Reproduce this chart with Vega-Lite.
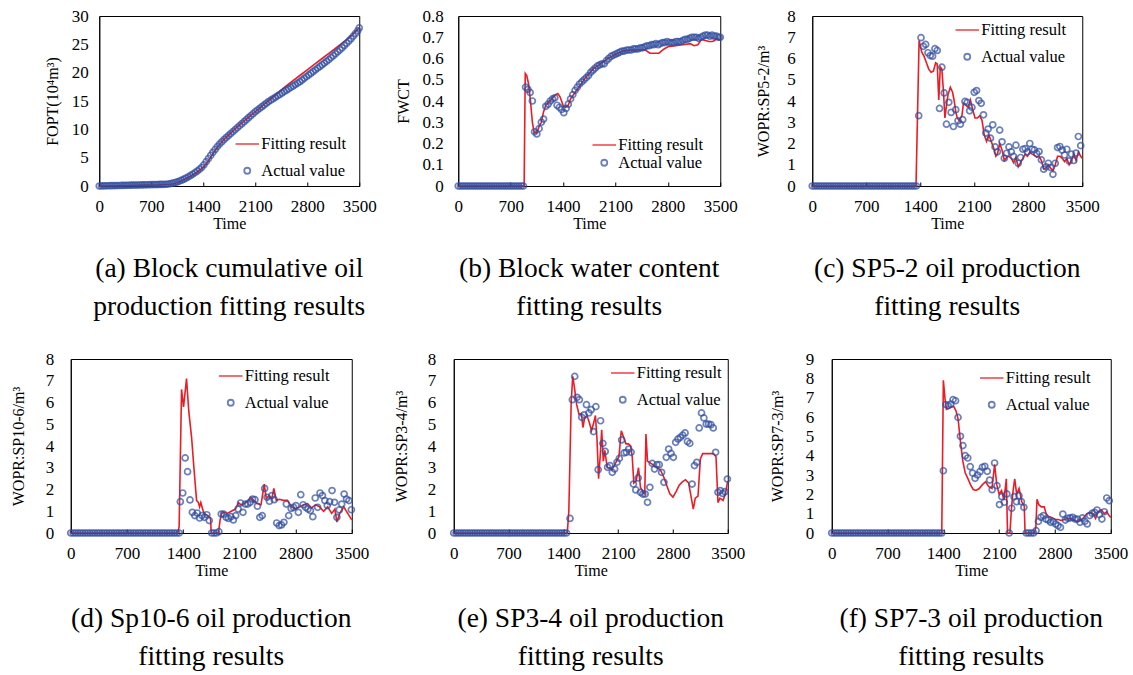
{
"$schema": "https://vega.github.io/schema/vega-lite/v6.json",
"background": "white",
"padding": {"left": 9.5, "top": 6, "right": 5, "bottom": 5},
"config": {
 "font": "Liberation Serif",
 "view": {"stroke": "black", "strokeWidth": 1},
 "axis": {"grid": false, "domainColor": "black", "labelColor": "black", "titleColor": "black", "labelFontSize": 17, "titleFontSize": 16, "titleFontWeight": "normal", "labelFont": "Liberation Serif", "titleFont": "Liberation Serif", "labelOverlap": false},
 "axisX": {"tickSize": -4, "tickColor": "black", "labelPadding": 16, "titlePadding": 1, "labelFlush": false, "labelOverlap": false, "tickCount": 12},
 "axisY": {"ticks": false, "labelOverlap": false, "tickCount": 12, "format": "~g"},
 "title": {"orient": "bottom", "fontSize": 27.5, "fontWeight": "normal", "lineHeight": 38, "offset": 24, "frame": "group", "color": "black", "anchor": "middle", "font": "Liberation Serif"},
 "legend": {"labelFontSize": 16.5, "labelColor": "black", "labelFont": "Liberation Serif", "padding": 0, "labelOffset": 1, "rowPadding": 9.5, "symbolStrokeWidth": 1.8}
},
"datasets": {
"aF": [{"t":0,"v":0},{"t":200,"v":0.05},{"t":400,"v":0.1},{"t":600,"v":0.15},{"t":800,"v":0.2},{"t":950,"v":0.3},{"t":1000,"v":0.4},{"t":1100,"v":0.9},{"t":1200,"v":1.5},{"t":1300,"v":2.3},{"t":1400,"v":3.3},{"t":1450,"v":4.1},{"t":1500,"v":5.1},{"t":1550,"v":6.1},{"t":1600,"v":7.0},{"t":1700,"v":8.5},{"t":1800,"v":9.7},{"t":1900,"v":10.9},{"t":2000,"v":12.0},{"t":2100,"v":13.1},{"t":2200,"v":14.2},{"t":2300,"v":15.3},{"t":2400,"v":16.4},{"t":2500,"v":17.5},{"t":2600,"v":18.5},{"t":2700,"v":19.5},{"t":2800,"v":20.5},{"t":2900,"v":21.5},{"t":3000,"v":22.5},{"t":3100,"v":23.5},{"t":3200,"v":24.5},{"t":3300,"v":25.5},{"t":3400,"v":26.6},{"t":3500,"v":27.9}],
"aA": [{"t":0,"v":0},{"t":30,"v":0.01},{"t":60,"v":0.02},{"t":90,"v":0.03},{"t":120,"v":0.04},{"t":150,"v":0.05},{"t":180,"v":0.06},{"t":210,"v":0.07},{"t":240,"v":0.08},{"t":270,"v":0.09},{"t":300,"v":0.1},{"t":330,"v":0.11},{"t":360,"v":0.12},{"t":390,"v":0.13},{"t":420,"v":0.14},{"t":450,"v":0.15},{"t":480,"v":0.16},{"t":510,"v":0.17},{"t":540,"v":0.18},{"t":570,"v":0.19},{"t":600,"v":0.2},{"t":630,"v":0.21},{"t":660,"v":0.22},{"t":690,"v":0.23},{"t":720,"v":0.24},{"t":750,"v":0.25},{"t":780,"v":0.26},{"t":810,"v":0.27},{"t":840,"v":0.28},{"t":870,"v":0.29},{"t":900,"v":0.31},{"t":930,"v":0.35},{"t":960,"v":0.42},{"t":990,"v":0.5},{"t":1020,"v":0.6},{"t":1050,"v":0.72},{"t":1080,"v":0.86},{"t":1110,"v":1.02},{"t":1140,"v":1.2},{"t":1170,"v":1.4},{"t":1200,"v":1.62},{"t":1230,"v":1.86},{"t":1260,"v":2.1},{"t":1290,"v":2.36},{"t":1320,"v":2.64},{"t":1350,"v":2.95},{"t":1380,"v":3.3},{"t":1410,"v":3.75},{"t":1440,"v":4.3},{"t":1470,"v":4.85},{"t":1500,"v":5.4},{"t":1530,"v":5.95},{"t":1560,"v":6.45},{"t":1590,"v":6.95},{"t":1620,"v":7.4},{"t":1650,"v":7.8},{"t":1680,"v":8.2},{"t":1710,"v":8.55},{"t":1740,"v":8.9},{"t":1770,"v":9.25},{"t":1800,"v":9.6},{"t":1830,"v":9.95},{"t":1860,"v":10.3},{"t":1890,"v":10.65},{"t":1920,"v":11.0},{"t":1950,"v":11.35},{"t":1980,"v":11.7},{"t":2010,"v":12.05},{"t":2040,"v":12.4},{"t":2070,"v":12.75},{"t":2100,"v":13.1},{"t":2130,"v":13.4},{"t":2160,"v":13.7},{"t":2190,"v":14.0},{"t":2220,"v":14.3},{"t":2250,"v":14.6},{"t":2280,"v":14.9},{"t":2310,"v":15.15},{"t":2340,"v":15.4},{"t":2370,"v":15.65},{"t":2400,"v":15.9},{"t":2430,"v":16.15},{"t":2460,"v":16.4},{"t":2490,"v":16.65},{"t":2520,"v":16.9},{"t":2550,"v":17.15},{"t":2580,"v":17.4},{"t":2610,"v":17.65},{"t":2640,"v":17.9},{"t":2670,"v":18.15},{"t":2700,"v":18.4},{"t":2730,"v":18.7},{"t":2760,"v":19.0},{"t":2790,"v":19.3},{"t":2820,"v":19.6},{"t":2850,"v":19.9},{"t":2880,"v":20.2},{"t":2910,"v":20.5},{"t":2940,"v":20.8},{"t":2970,"v":21.1},{"t":3000,"v":21.4},{"t":3030,"v":21.7},{"t":3060,"v":22.0},{"t":3090,"v":22.3},{"t":3120,"v":22.65},{"t":3150,"v":23.0},{"t":3180,"v":23.35},{"t":3210,"v":23.7},{"t":3240,"v":24.05},{"t":3270,"v":24.4},{"t":3300,"v":24.8},{"t":3330,"v":25.2},{"t":3360,"v":25.6},{"t":3390,"v":26.0},{"t":3420,"v":26.45},{"t":3450,"v":26.9},{"t":3480,"v":27.4},{"t":3500,"v":27.9}],
"bF": [{"t":0,"v":0},{"t":880,"v":0},{"t":895,"v":0.53},{"t":915,"v":0.52},{"t":940,"v":0.48},{"t":965,"v":0.4},{"t":990,"v":0.3},{"t":1015,"v":0.25},{"t":1050,"v":0.25},{"t":1080,"v":0.28},{"t":1110,"v":0.3},{"t":1140,"v":0.35},{"t":1170,"v":0.38},{"t":1200,"v":0.39},{"t":1250,"v":0.41},{"t":1300,"v":0.43},{"t":1330,"v":0.435},{"t":1360,"v":0.42},{"t":1400,"v":0.38},{"t":1430,"v":0.37},{"t":1470,"v":0.38},{"t":1500,"v":0.41},{"t":1600,"v":0.46},{"t":1700,"v":0.51},{"t":1800,"v":0.55},{"t":1900,"v":0.575},{"t":2000,"v":0.6},{"t":2100,"v":0.62},{"t":2200,"v":0.635},{"t":2300,"v":0.64},{"t":2400,"v":0.64},{"t":2500,"v":0.64},{"t":2560,"v":0.625},{"t":2620,"v":0.625},{"t":2680,"v":0.625},{"t":2750,"v":0.645},{"t":2800,"v":0.655},{"t":2900,"v":0.66},{"t":3000,"v":0.665},{"t":3100,"v":0.67},{"t":3150,"v":0.66},{"t":3200,"v":0.665},{"t":3250,"v":0.69},{"t":3300,"v":0.685},{"t":3350,"v":0.68},{"t":3400,"v":0.68},{"t":3450,"v":0.69},{"t":3500,"v":0.69}],
"bA": [{"t":0,"v":0},{"t":30,"v":0},{"t":60,"v":0},{"t":90,"v":0},{"t":120,"v":0},{"t":150,"v":0},{"t":180,"v":0},{"t":210,"v":0},{"t":240,"v":0},{"t":270,"v":0},{"t":300,"v":0},{"t":330,"v":0},{"t":360,"v":0},{"t":390,"v":0},{"t":420,"v":0},{"t":450,"v":0},{"t":480,"v":0},{"t":510,"v":0},{"t":540,"v":0},{"t":570,"v":0},{"t":600,"v":0},{"t":630,"v":0},{"t":660,"v":0},{"t":690,"v":0},{"t":720,"v":0},{"t":750,"v":0},{"t":780,"v":0},{"t":810,"v":0},{"t":840,"v":0},{"t":870,"v":0},{"t":900,"v":0.465},{"t":930,"v":0.455},{"t":960,"v":0.44},{"t":990,"v":0.4},{"t":1020,"v":0.255},{"t":1050,"v":0.245},{"t":1080,"v":0.27},{"t":1110,"v":0.3},{"t":1140,"v":0.315},{"t":1170,"v":0.375},{"t":1200,"v":0.385},{"t":1230,"v":0.4},{"t":1260,"v":0.41},{"t":1290,"v":0.415},{"t":1320,"v":0.38},{"t":1350,"v":0.37},{"t":1380,"v":0.36},{"t":1410,"v":0.345},{"t":1440,"v":0.365},{"t":1470,"v":0.385},{"t":1500,"v":0.41},{"t":1530,"v":0.43},{"t":1560,"v":0.45},{"t":1590,"v":0.465},{"t":1620,"v":0.48},{"t":1650,"v":0.49},{"t":1680,"v":0.5},{"t":1710,"v":0.51},{"t":1740,"v":0.52},{"t":1770,"v":0.535},{"t":1800,"v":0.545},{"t":1830,"v":0.555},{"t":1860,"v":0.565},{"t":1890,"v":0.57},{"t":1920,"v":0.575},{"t":1950,"v":0.575},{"t":1980,"v":0.59},{"t":2010,"v":0.6},{"t":2040,"v":0.61},{"t":2070,"v":0.615},{"t":2100,"v":0.62},{"t":2130,"v":0.625},{"t":2160,"v":0.63},{"t":2190,"v":0.635},{"t":2220,"v":0.635},{"t":2250,"v":0.64},{"t":2280,"v":0.64},{"t":2310,"v":0.64},{"t":2340,"v":0.645},{"t":2370,"v":0.645},{"t":2400,"v":0.645},{"t":2430,"v":0.65},{"t":2460,"v":0.65},{"t":2490,"v":0.655},{"t":2520,"v":0.66},{"t":2550,"v":0.66},{"t":2580,"v":0.665},{"t":2610,"v":0.665},{"t":2640,"v":0.67},{"t":2670,"v":0.665},{"t":2700,"v":0.67},{"t":2730,"v":0.675},{"t":2760,"v":0.675},{"t":2790,"v":0.68},{"t":2820,"v":0.675},{"t":2850,"v":0.675},{"t":2880,"v":0.675},{"t":2910,"v":0.68},{"t":2940,"v":0.68},{"t":2970,"v":0.68},{"t":3000,"v":0.685},{"t":3030,"v":0.69},{"t":3060,"v":0.69},{"t":3090,"v":0.695},{"t":3120,"v":0.7},{"t":3150,"v":0.7},{"t":3180,"v":0.7},{"t":3210,"v":0.695},{"t":3240,"v":0.7},{"t":3270,"v":0.705},{"t":3300,"v":0.71},{"t":3330,"v":0.71},{"t":3360,"v":0.705},{"t":3390,"v":0.71},{"t":3420,"v":0.705},{"t":3450,"v":0.705},{"t":3480,"v":0.7},{"t":3500,"v":0.7}],
"cF": [{"t":0,"v":0},{"t":1345,"v":0},{"t":1385,"v":6.85},{"t":1420,"v":6.3},{"t":1450,"v":6.1},{"t":1480,"v":5.8},{"t":1510,"v":5.5},{"t":1540,"v":5.35},{"t":1570,"v":5.4},{"t":1600,"v":5.8},{"t":1620,"v":5.75},{"t":1640,"v":4.05},{"t":1660,"v":5.6},{"t":1680,"v":5.5},{"t":1700,"v":4.5},{"t":1720,"v":3.2},{"t":1740,"v":3.8},{"t":1760,"v":4.3},{"t":1790,"v":4.65},{"t":1820,"v":4.4},{"t":1840,"v":4.0},{"t":1860,"v":3.5},{"t":1880,"v":3.2},{"t":1900,"v":3.1},{"t":1940,"v":3.3},{"t":1960,"v":3.9},{"t":1990,"v":3.8},{"t":2020,"v":3.7},{"t":2050,"v":4.05},{"t":2080,"v":3.6},{"t":2110,"v":3.2},{"t":2140,"v":3.2},{"t":2170,"v":3.3},{"t":2200,"v":3.1},{"t":2230,"v":2.4},{"t":2260,"v":2.1},{"t":2290,"v":2.4},{"t":2320,"v":2.1},{"t":2350,"v":1.8},{"t":2380,"v":1.4},{"t":2400,"v":1.5},{"t":2430,"v":2.0},{"t":2460,"v":1.7},{"t":2490,"v":1.2},{"t":2520,"v":1.35},{"t":2550,"v":1.4},{"t":2580,"v":1.3},{"t":2610,"v":1.1},{"t":2640,"v":1.35},{"t":2670,"v":0.9},{"t":2700,"v":1.1},{"t":2730,"v":1.3},{"t":2760,"v":1.5},{"t":2790,"v":1.4},{"t":2820,"v":1.6},{"t":2850,"v":1.5},{"t":2880,"v":1.45},{"t":2910,"v":1.35},{"t":2940,"v":1.4},{"t":2970,"v":1.2},{"t":3000,"v":0.8},{"t":3030,"v":0.85},{"t":3060,"v":1.0},{"t":3090,"v":0.85},{"t":3120,"v":0.7},{"t":3150,"v":1.0},{"t":3180,"v":1.4},{"t":3210,"v":1.4},{"t":3240,"v":1.3},{"t":3270,"v":1.15},{"t":3300,"v":1.3},{"t":3330,"v":1.0},{"t":3360,"v":1.2},{"t":3390,"v":1.5},{"t":3420,"v":1.2},{"t":3450,"v":1.6},{"t":3480,"v":1.4},{"t":3500,"v":1.3}],
"cA": [{"t":0,"v":0},{"t":30,"v":0},{"t":60,"v":0},{"t":90,"v":0},{"t":120,"v":0},{"t":150,"v":0},{"t":180,"v":0},{"t":210,"v":0},{"t":240,"v":0},{"t":270,"v":0},{"t":300,"v":0},{"t":330,"v":0},{"t":360,"v":0},{"t":390,"v":0},{"t":420,"v":0},{"t":450,"v":0},{"t":480,"v":0},{"t":510,"v":0},{"t":540,"v":0},{"t":570,"v":0},{"t":600,"v":0},{"t":630,"v":0},{"t":660,"v":0},{"t":690,"v":0},{"t":720,"v":0},{"t":750,"v":0},{"t":780,"v":0},{"t":810,"v":0},{"t":840,"v":0},{"t":870,"v":0},{"t":900,"v":0},{"t":930,"v":0},{"t":960,"v":0},{"t":990,"v":0},{"t":1020,"v":0},{"t":1050,"v":0},{"t":1080,"v":0},{"t":1110,"v":0},{"t":1140,"v":0},{"t":1170,"v":0},{"t":1200,"v":0},{"t":1230,"v":0},{"t":1260,"v":0},{"t":1290,"v":0},{"t":1320,"v":0},{"t":1350,"v":0},{"t":1380,"v":3.31},{"t":1410,"v":6.98},{"t":1440,"v":6.57},{"t":1470,"v":6.66},{"t":1500,"v":6.27},{"t":1530,"v":6.14},{"t":1560,"v":6.11},{"t":1590,"v":6.46},{"t":1620,"v":6.38},{"t":1650,"v":3.65},{"t":1680,"v":5.59},{"t":1710,"v":4.38},{"t":1740,"v":2.91},{"t":1770,"v":3.94},{"t":1800,"v":3.46},{"t":1830,"v":2.8},{"t":1860,"v":3.59},{"t":1890,"v":3.07},{"t":1920,"v":2.91},{"t":1950,"v":3.12},{"t":1980,"v":3.98},{"t":2010,"v":3.94},{"t":2040,"v":3.54},{"t":2070,"v":3.7},{"t":2100,"v":4.41},{"t":2130,"v":4.49},{"t":2160,"v":4.02},{"t":2190,"v":3.89},{"t":2220,"v":3.35},{"t":2250,"v":2.49},{"t":2280,"v":2.68},{"t":2310,"v":2.25},{"t":2340,"v":2.88},{"t":2370,"v":1.84},{"t":2400,"v":1.61},{"t":2430,"v":2.63},{"t":2460,"v":2.08},{"t":2490,"v":1.31},{"t":2520,"v":1.54},{"t":2550,"v":1.84},{"t":2580,"v":1.61},{"t":2610,"v":1.39},{"t":2640,"v":1.92},{"t":2670,"v":1.07},{"t":2700,"v":1.34},{"t":2730,"v":1.73},{"t":2760,"v":1.76},{"t":2790,"v":1.61},{"t":2820,"v":2.0},{"t":2850,"v":1.73},{"t":2880,"v":1.7},{"t":2910,"v":1.53},{"t":2940,"v":1.62},{"t":2970,"v":1.23},{"t":3000,"v":0.79},{"t":3030,"v":0.9},{"t":3060,"v":1.07},{"t":3090,"v":0.87},{"t":3120,"v":0.55},{"t":3150,"v":1.07},{"t":3180,"v":1.81},{"t":3210,"v":1.86},{"t":3240,"v":1.69},{"t":3270,"v":1.46},{"t":3300,"v":1.73},{"t":3330,"v":1.18},{"t":3360,"v":1.5},{"t":3390,"v":1.2},{"t":3420,"v":1.55},{"t":3450,"v":2.33},{"t":3480,"v":1.9}],
"dF": [{"t":0,"v":0},{"t":1335,"v":0},{"t":1350,"v":0.3},{"t":1380,"v":6.6},{"t":1405,"v":5.8},{"t":1442,"v":7.1},{"t":1470,"v":5.6},{"t":1505,"v":4.4},{"t":1534,"v":3.0},{"t":1567,"v":1.5},{"t":1590,"v":1.4},{"t":1605,"v":1.2},{"t":1620,"v":1.4},{"t":1650,"v":1.0},{"t":1680,"v":0.85},{"t":1710,"v":0.8},{"t":1740,"v":0.7},{"t":1750,"v":0},{"t":1840,"v":0},{"t":1860,"v":0.6},{"t":1880,"v":0.9},{"t":1910,"v":0.95},{"t":1950,"v":0.9},{"t":2000,"v":1.0},{"t":2050,"v":1.1},{"t":2090,"v":1.4},{"t":2120,"v":1.3},{"t":2160,"v":1.35},{"t":2200,"v":1.45},{"t":2240,"v":1.65},{"t":2280,"v":1.5},{"t":2320,"v":1.35},{"t":2370,"v":1.3},{"t":2410,"v":2.25},{"t":2435,"v":1.6},{"t":2470,"v":1.7},{"t":2505,"v":1.6},{"t":2530,"v":2.05},{"t":2560,"v":1.5},{"t":2600,"v":1.55},{"t":2650,"v":1.5},{"t":2700,"v":1.5},{"t":2750,"v":1.2},{"t":2800,"v":1.1},{"t":2850,"v":1.2},{"t":2900,"v":1.3},{"t":2950,"v":1.35},{"t":3000,"v":1.15},{"t":3050,"v":1.3},{"t":3100,"v":1.2},{"t":3150,"v":1.0},{"t":3200,"v":1.2},{"t":3250,"v":0.9},{"t":3290,"v":1.1},{"t":3315,"v":0.5},{"t":3350,"v":0.9},{"t":3400,"v":1.2},{"t":3450,"v":0.9},{"t":3500,"v":0.6}],
"dA": [{"t":0,"v":0},{"t":30,"v":0},{"t":60,"v":0},{"t":90,"v":0},{"t":120,"v":0},{"t":150,"v":0},{"t":180,"v":0},{"t":210,"v":0},{"t":240,"v":0},{"t":270,"v":0},{"t":300,"v":0},{"t":330,"v":0},{"t":360,"v":0},{"t":390,"v":0},{"t":420,"v":0},{"t":450,"v":0},{"t":480,"v":0},{"t":510,"v":0},{"t":540,"v":0},{"t":570,"v":0},{"t":600,"v":0},{"t":630,"v":0},{"t":660,"v":0},{"t":690,"v":0},{"t":720,"v":0},{"t":750,"v":0},{"t":780,"v":0},{"t":810,"v":0},{"t":840,"v":0},{"t":870,"v":0},{"t":900,"v":0},{"t":930,"v":0},{"t":960,"v":0},{"t":990,"v":0},{"t":1020,"v":0},{"t":1050,"v":0},{"t":1080,"v":0},{"t":1110,"v":0},{"t":1140,"v":0},{"t":1170,"v":0},{"t":1200,"v":0},{"t":1230,"v":0},{"t":1260,"v":0},{"t":1290,"v":0},{"t":1320,"v":0},{"t":1350,"v":0},{"t":1365,"v":1.44},{"t":1395,"v":1.84},{"t":1425,"v":3.45},{"t":1455,"v":2.82},{"t":1485,"v":1.52},{"t":1515,"v":0.95},{"t":1545,"v":0.8},{"t":1575,"v":0.92},{"t":1605,"v":0.69},{"t":1635,"v":0.8},{"t":1665,"v":0.72},{"t":1695,"v":0.84},{"t":1725,"v":0.57},{"t":1755,"v":0},{"t":1785,"v":0},{"t":1815,"v":0},{"t":1845,"v":0.06},{"t":1875,"v":0.87},{"t":1905,"v":0.87},{"t":1935,"v":0.72},{"t":1965,"v":0.67},{"t":1995,"v":0.75},{"t":2025,"v":0.6},{"t":2055,"v":0.8},{"t":2085,"v":1.1},{"t":2115,"v":1.38},{"t":2145,"v":0.95},{"t":2175,"v":1.33},{"t":2205,"v":1.33},{"t":2235,"v":1.41},{"t":2265,"v":1.56},{"t":2295,"v":1.53},{"t":2325,"v":1.23},{"t":2355,"v":0.72},{"t":2385,"v":0.8},{"t":2415,"v":2.05},{"t":2445,"v":1.64},{"t":2475,"v":1.46},{"t":2505,"v":1.72},{"t":2535,"v":1.53},{"t":2565,"v":0.46},{"t":2595,"v":0.34},{"t":2625,"v":0.37},{"t":2655,"v":0.49},{"t":2685,"v":1.33},{"t":2715,"v":0.8},{"t":2745,"v":1.13},{"t":2775,"v":1.18},{"t":2805,"v":1.26},{"t":2835,"v":0.95},{"t":2865,"v":1.76},{"t":2895,"v":1.3},{"t":2925,"v":1.18},{"t":2955,"v":1.1},{"t":2985,"v":1.03},{"t":3015,"v":0.75},{"t":3045,"v":1.61},{"t":3075,"v":1.18},{"t":3105,"v":1.84},{"t":3135,"v":1.72},{"t":3165,"v":1.49},{"t":3195,"v":1.26},{"t":3225,"v":1.44},{"t":3255,"v":1.95},{"t":3285,"v":1.41},{"t":3315,"v":0.72},{"t":3345,"v":1.06},{"t":3375,"v":1.33},{"t":3405,"v":1.79},{"t":3435,"v":1.56},{"t":3465,"v":1.49},{"t":3495,"v":1.07}],
"eF": [{"t":0,"v":0},{"t":1450,"v":0},{"t":1470,"v":1.0},{"t":1500,"v":6.0},{"t":1520,"v":7.2},{"t":1545,"v":6.6},{"t":1570,"v":5.9},{"t":1600,"v":5.45},{"t":1630,"v":5.5},{"t":1650,"v":4.85},{"t":1670,"v":5.25},{"t":1700,"v":5.4},{"t":1730,"v":5.1},{"t":1760,"v":4.7},{"t":1790,"v":5.1},{"t":1810,"v":5.4},{"t":1830,"v":4.3},{"t":1850,"v":2.5},{"t":1870,"v":3.5},{"t":1890,"v":4.75},{"t":1910,"v":3.3},{"t":1930,"v":3.8},{"t":1960,"v":3.0},{"t":1990,"v":3.0},{"t":2020,"v":2.9},{"t":2050,"v":3.1},{"t":2080,"v":3.3},{"t":2110,"v":3.5},{"t":2140,"v":4.7},{"t":2170,"v":4.4},{"t":2200,"v":4.1},{"t":2230,"v":4.1},{"t":2260,"v":4.0},{"t":2280,"v":3.5},{"t":2300,"v":2.3},{"t":2330,"v":2.4},{"t":2360,"v":3.0},{"t":2385,"v":2.1},{"t":2415,"v":1.9},{"t":2440,"v":1.8},{"t":2455,"v":4.55},{"t":2475,"v":3.3},{"t":2520,"v":3.2},{"t":2560,"v":3.1},{"t":2600,"v":3.0},{"t":2640,"v":2.9},{"t":2680,"v":2.6},{"t":2720,"v":2.2},{"t":2760,"v":1.8},{"t":2800,"v":1.65},{"t":2840,"v":1.9},{"t":2880,"v":2.2},{"t":2920,"v":2.35},{"t":2960,"v":2.45},{"t":3000,"v":2.3},{"t":3035,"v":1.6},{"t":3060,"v":1.1},{"t":3085,"v":1.6},{"t":3120,"v":1.7},{"t":3150,"v":3.4},{"t":3180,"v":3.65},{"t":3250,"v":3.65},{"t":3320,"v":3.65},{"t":3350,"v":3.5},{"t":3375,"v":1.4},{"t":3400,"v":1.6},{"t":3440,"v":1.5},{"t":3470,"v":1.8},{"t":3500,"v":2.4}],
"eA": [{"t":0,"v":0},{"t":30,"v":0},{"t":60,"v":0},{"t":90,"v":0},{"t":120,"v":0},{"t":150,"v":0},{"t":180,"v":0},{"t":210,"v":0},{"t":240,"v":0},{"t":270,"v":0},{"t":300,"v":0},{"t":330,"v":0},{"t":360,"v":0},{"t":390,"v":0},{"t":420,"v":0},{"t":450,"v":0},{"t":480,"v":0},{"t":510,"v":0},{"t":540,"v":0},{"t":570,"v":0},{"t":600,"v":0},{"t":630,"v":0},{"t":660,"v":0},{"t":690,"v":0},{"t":720,"v":0},{"t":750,"v":0},{"t":780,"v":0},{"t":810,"v":0},{"t":840,"v":0},{"t":870,"v":0},{"t":900,"v":0},{"t":930,"v":0},{"t":960,"v":0},{"t":990,"v":0},{"t":1020,"v":0},{"t":1050,"v":0},{"t":1080,"v":0},{"t":1110,"v":0},{"t":1140,"v":0},{"t":1170,"v":0},{"t":1200,"v":0},{"t":1230,"v":0},{"t":1260,"v":0},{"t":1290,"v":0},{"t":1320,"v":0},{"t":1350,"v":0},{"t":1380,"v":0},{"t":1410,"v":0},{"t":1440,"v":0},{"t":1485,"v":0.67},{"t":1515,"v":6.13},{"t":1545,"v":7.2},{"t":1575,"v":6.24},{"t":1605,"v":6.13},{"t":1635,"v":5.32},{"t":1665,"v":5.43},{"t":1695,"v":5.9},{"t":1725,"v":5.52},{"t":1755,"v":5.67},{"t":1785,"v":4.66},{"t":1815,"v":5.81},{"t":1845,"v":2.91},{"t":1875,"v":5.16},{"t":1905,"v":4.12},{"t":1935,"v":3.75},{"t":1965,"v":3.02},{"t":1995,"v":3.1},{"t":2025,"v":2.79},{"t":2055,"v":2.94},{"t":2085,"v":3.25},{"t":2115,"v":3.43},{"t":2145,"v":4.28},{"t":2175,"v":3.68},{"t":2205,"v":3.71},{"t":2235,"v":3.86},{"t":2265,"v":3.71},{"t":2295,"v":2.25},{"t":2325,"v":1.98},{"t":2355,"v":2.53},{"t":2385,"v":1.87},{"t":2415,"v":1.79},{"t":2445,"v":1.79},{"t":2475,"v":1.41},{"t":2505,"v":2.1},{"t":2535,"v":3.2},{"t":2565,"v":2.94},{"t":2595,"v":3.14},{"t":2625,"v":3.14},{"t":2655,"v":2.79},{"t":2685,"v":2.33},{"t":2715,"v":3.48},{"t":2745,"v":3.86},{"t":2775,"v":3.66},{"t":2805,"v":3.48},{"t":2835,"v":4.17},{"t":2865,"v":4.32},{"t":2895,"v":4.4},{"t":2925,"v":4.5},{"t":2955,"v":4.6},{"t":2985,"v":4.21},{"t":3015,"v":4.12},{"t":3045,"v":2.25},{"t":3075,"v":3.1},{"t":3105,"v":3.25},{"t":3135,"v":4.83},{"t":3165,"v":5.52},{"t":3195,"v":5.29},{"t":3225,"v":5.01},{"t":3255,"v":5.01},{"t":3285,"v":4.98},{"t":3315,"v":4.83},{"t":3345,"v":3.71},{"t":3375,"v":1.87},{"t":3405,"v":1.95},{"t":3435,"v":1.82},{"t":3465,"v":1.9},{"t":3495,"v":2.48}],
"fF": [{"t":0,"v":0},{"t":1380,"v":0},{"t":1400,"v":7.9},{"t":1422,"v":6.9},{"t":1440,"v":6.4},{"t":1470,"v":6.45},{"t":1500,"v":6.5},{"t":1530,"v":6.55},{"t":1560,"v":6.3},{"t":1585,"v":5.9},{"t":1615,"v":4.7},{"t":1645,"v":3.7},{"t":1675,"v":3.1},{"t":1710,"v":2.8},{"t":1740,"v":2.5},{"t":1775,"v":2.25},{"t":1810,"v":2.2},{"t":1850,"v":2.3},{"t":1890,"v":2.5},{"t":1930,"v":2.65},{"t":1970,"v":2.4},{"t":2010,"v":2.3},{"t":2043,"v":3.55},{"t":2070,"v":2.5},{"t":2100,"v":2.0},{"t":2130,"v":2.2},{"t":2160,"v":1.7},{"t":2190,"v":2.8},{"t":2205,"v":0},{"t":2235,"v":0},{"t":2255,"v":1.3},{"t":2275,"v":2.2},{"t":2295,"v":2.8},{"t":2320,"v":2.0},{"t":2350,"v":2.3},{"t":2385,"v":1.6},{"t":2415,"v":1.4},{"t":2425,"v":0},{"t":2545,"v":0},{"t":2560,"v":0.3},{"t":2575,"v":1.75},{"t":2600,"v":1.45},{"t":2630,"v":1.35},{"t":2665,"v":1.35},{"t":2690,"v":1.0},{"t":2720,"v":0.85},{"t":2760,"v":0.8},{"t":2800,"v":0.7},{"t":2840,"v":0.7},{"t":2880,"v":0.65},{"t":2920,"v":0.7},{"t":2960,"v":0.75},{"t":3000,"v":0.75},{"t":3040,"v":0.65},{"t":3080,"v":0.6},{"t":3120,"v":0.65},{"t":3160,"v":0.8},{"t":3200,"v":1.0},{"t":3240,"v":1.05},{"t":3280,"v":1.0},{"t":3310,"v":0.75},{"t":3340,"v":1.1},{"t":3380,"v":1.2},{"t":3420,"v":1.0},{"t":3450,"v":1.1},{"t":3480,"v":0.9},{"t":3500,"v":0.8}],
"fA": [{"t":0,"v":0},{"t":30,"v":0},{"t":60,"v":0},{"t":90,"v":0},{"t":120,"v":0},{"t":150,"v":0},{"t":180,"v":0},{"t":210,"v":0},{"t":240,"v":0},{"t":270,"v":0},{"t":300,"v":0},{"t":330,"v":0},{"t":360,"v":0},{"t":390,"v":0},{"t":420,"v":0},{"t":450,"v":0},{"t":480,"v":0},{"t":510,"v":0},{"t":540,"v":0},{"t":570,"v":0},{"t":600,"v":0},{"t":630,"v":0},{"t":660,"v":0},{"t":690,"v":0},{"t":720,"v":0},{"t":750,"v":0},{"t":780,"v":0},{"t":810,"v":0},{"t":840,"v":0},{"t":870,"v":0},{"t":900,"v":0},{"t":930,"v":0},{"t":960,"v":0},{"t":990,"v":0},{"t":1020,"v":0},{"t":1050,"v":0},{"t":1080,"v":0},{"t":1110,"v":0},{"t":1140,"v":0},{"t":1170,"v":0},{"t":1200,"v":0},{"t":1230,"v":0},{"t":1260,"v":0},{"t":1290,"v":0},{"t":1320,"v":0},{"t":1350,"v":0},{"t":1380,"v":0},{"t":1400,"v":3.22},{"t":1431,"v":6.64},{"t":1461,"v":6.59},{"t":1492,"v":6.67},{"t":1522,"v":6.9},{"t":1553,"v":6.84},{"t":1584,"v":5.98},{"t":1614,"v":5.0},{"t":1645,"v":4.52},{"t":1675,"v":4.0},{"t":1706,"v":3.88},{"t":1737,"v":3.43},{"t":1767,"v":3.1},{"t":1798,"v":2.83},{"t":1828,"v":3.0},{"t":1859,"v":3.17},{"t":1890,"v":3.4},{"t":1920,"v":3.45},{"t":1951,"v":3.19},{"t":1981,"v":2.74},{"t":2012,"v":2.24},{"t":2043,"v":3.62},{"t":2073,"v":2.45},{"t":2104,"v":1.47},{"t":2134,"v":1.88},{"t":2165,"v":1.59},{"t":2196,"v":2.02},{"t":2226,"v":0},{"t":2257,"v":1.28},{"t":2287,"v":1.88},{"t":2318,"v":1.62},{"t":2349,"v":1.93},{"t":2379,"v":1.62},{"t":2410,"v":1.33},{"t":2440,"v":0},{"t":2471,"v":0},{"t":2502,"v":0},{"t":2532,"v":0},{"t":2563,"v":0.12},{"t":2593,"v":0.6},{"t":2624,"v":0.81},{"t":2655,"v":0.9},{"t":2685,"v":0.72},{"t":2716,"v":0.67},{"t":2746,"v":0.55},{"t":2777,"v":0.59},{"t":2808,"v":0.47},{"t":2838,"v":0.38},{"t":2869,"v":0.29},{"t":2899,"v":0.98},{"t":2930,"v":0.67},{"t":2961,"v":0.76},{"t":2991,"v":0.78},{"t":3022,"v":0.81},{"t":3052,"v":0.72},{"t":3083,"v":0.72},{"t":3114,"v":0.55},{"t":3144,"v":0.78},{"t":3175,"v":0.6},{"t":3205,"v":0.47},{"t":3236,"v":0.9},{"t":3267,"v":1.02},{"t":3297,"v":1.07},{"t":3328,"v":1.19},{"t":3358,"v":0.95},{"t":3389,"v":0.72},{"t":3420,"v":1.1},{"t":3450,"v":1.81},{"t":3481,"v":1.67}]
},
"spacing": 28,
"center": true,
"resolve": {"scale": {"color": "independent", "shape": "independent", "size": "independent"}},
"vconcat": [
{"spacing": 17, "resolve": {"scale": {"color": "independent", "shape": "independent", "size": "independent"}}, "hconcat": [
 {"width": 260, "height": 170, "title": {"text": ["(a) Block cumulative oil", "production fitting results"]},
  "layer": [
   {"data": {"name": "aF"}, "mark": {"type": "line", "strokeWidth": 1.6},
    "encoding": {"x": {"field": "t", "type": "quantitative", "scale": {"domain": [0, 3500]}, "axis": {"values": [0,700,1400,2100,2800,3500], "tickCount": 12, "format": "d", "labelOverlap": false, "title": "Time"}},
     "y": {"field": "v", "type": "quantitative", "scale": {"domain": [0, 30]}, "axis": {"values": [0,5,10,15,20,25,30], "tickCount": 12, "format": "~g", "labelOverlap": false, "title": "FOPT(10⁴m³)", "labelPadding": 11, "titlePadding": 11}},
     "color": {"datum": "Fitting result", "type": "nominal", "scale": {"domain": ["Fitting result", "Actual value"], "range": ["#ec1c24", "#2f4d9f"]}, "legend": {"title": null, "orient": "none", "legendX": 135, "legendY": 115}}}},
   {"data": {"name": "aA"}, "mark": {"type": "point", "filled": false, "strokeWidth": 1.7},
    "encoding": {"x": {"field": "t", "type": "quantitative"}, "y": {"field": "v", "type": "quantitative"},
     "color": {"datum": "Actual value", "type": "nominal"},
     "shape": {"datum": "Actual value", "type": "nominal", "scale": {"domain": ["Fitting result", "Actual value"], "range": ["stroke", "circle"]}},
     "size": {"datum": "Actual value", "type": "nominal", "scale": {"type": "point", "padding": 0, "domain": ["Fitting result", "Actual value"], "range": [550, 36]}}}}
  ]},
 {"width": 262, "height": 170, "title": {"text": ["(b) Block water content", "fitting results"]},
  "layer": [
   {"data": {"name": "bF"}, "mark": {"type": "line", "strokeWidth": 1.6},
    "encoding": {"x": {"field": "t", "type": "quantitative", "scale": {"domain": [0, 3500]}, "axis": {"values": [0,700,1400,2100,2800,3500], "tickCount": 12, "format": "d", "labelOverlap": false, "title": "Time"}},
     "y": {"field": "v", "type": "quantitative", "scale": {"domain": [0, 0.8]}, "axis": {"values": [0,0.1,0.2,0.3,0.4,0.5,0.6,0.7,0.8], "tickCount": 12, "format": "~g", "labelOverlap": false, "title": "FWCT", "labelPadding": 15, "titlePadding": 11}},
     "color": {"datum": "Fitting result", "type": "nominal", "scale": {"domain": ["Fitting result", "Actual value"], "range": ["#ec1c24", "#2f4d9f"]}, "legend": {"title": null, "orient": "none", "legendX": 133, "legendY": 116, "rowPadding": 0.5}}}},
   {"data": {"name": "bA"}, "mark": {"type": "point", "filled": false, "strokeWidth": 1.7},
    "encoding": {"x": {"field": "t", "type": "quantitative"}, "y": {"field": "v", "type": "quantitative"},
     "color": {"datum": "Actual value", "type": "nominal"},
     "shape": {"datum": "Actual value", "type": "nominal", "scale": {"domain": ["Fitting result", "Actual value"], "range": ["stroke", "circle"]}},
     "size": {"datum": "Actual value", "type": "nominal", "scale": {"type": "point", "padding": 0, "domain": ["Fitting result", "Actual value"], "range": [550, 36]}}}}
  ]},
 {"width": 270, "height": 170, "title": {"text": ["(c) SP5-2 oil production", "fitting results"]},
  "layer": [
   {"data": {"name": "cF"}, "mark": {"type": "line", "strokeWidth": 1.6},
    "encoding": {"x": {"field": "t", "type": "quantitative", "scale": {"domain": [0, 3500]}, "axis": {"values": [0,700,1400,2100,2800,3500], "tickCount": 12, "format": "d", "labelOverlap": false, "title": "Time"}},
     "y": {"field": "v", "type": "quantitative", "scale": {"domain": [0, 8]}, "axis": {"values": [0,1,2,3,4,5,6,7,8], "tickCount": 12, "format": "~g", "labelOverlap": false, "title": "WOPR:SP5-2/m³", "labelPadding": 17, "titlePadding": 15}},
     "color": {"datum": "Fitting result", "type": "nominal", "scale": {"domain": ["Fitting result", "Actual value"], "range": ["#ec1c24", "#2f4d9f"]}, "legend": {"title": null, "orient": "none", "legendX": 142, "legendY": 1}}}},
   {"data": {"name": "cA"}, "mark": {"type": "point", "filled": false, "strokeWidth": 1.7},
    "encoding": {"x": {"field": "t", "type": "quantitative"}, "y": {"field": "v", "type": "quantitative"},
     "color": {"datum": "Actual value", "type": "nominal"},
     "shape": {"datum": "Actual value", "type": "nominal", "scale": {"domain": ["Fitting result", "Actual value"], "range": ["stroke", "circle"]}},
     "size": {"datum": "Actual value", "type": "nominal", "scale": {"type": "point", "padding": 0, "domain": ["Fitting result", "Actual value"], "range": [550, 36]}}}}
  ]}
]},
{"spacing": 23, "resolve": {"scale": {"color": "independent", "shape": "independent", "size": "independent"}}, "hconcat": [
 {"width": 281, "height": 174, "title": {"text": ["(d) Sp10-6 oil production", "fitting results"], "offset": 27},
  "layer": [
   {"data": {"name": "dF"}, "mark": {"type": "line", "strokeWidth": 1.6},
    "encoding": {"x": {"field": "t", "type": "quantitative", "scale": {"domain": [0, 3500]}, "axis": {"values": [0,700,1400,2100,2800,3500], "tickCount": 12, "format": "d", "labelOverlap": false, "title": "Time"}},
     "y": {"field": "v", "type": "quantitative", "scale": {"domain": [0, 8]}, "axis": {"values": [0,1,2,3,4,5,6,7,8], "tickCount": 12, "format": "~g", "labelOverlap": false, "title": "WOPR:SP10-6/m³", "labelPadding": 17, "titlePadding": 19}},
     "color": {"datum": "Fitting result", "type": "nominal", "scale": {"domain": ["Fitting result", "Actual value"], "range": ["#ec1c24", "#2f4d9f"]}, "legend": {"title": null, "orient": "none", "legendX": 147, "legendY": 4}}}},
   {"data": {"name": "dA"}, "mark": {"type": "point", "filled": false, "strokeWidth": 1.7},
    "encoding": {"x": {"field": "t", "type": "quantitative"}, "y": {"field": "v", "type": "quantitative"},
     "color": {"datum": "Actual value", "type": "nominal"},
     "shape": {"datum": "Actual value", "type": "nominal", "scale": {"domain": ["Fitting result", "Actual value"], "range": ["stroke", "circle"]}},
     "size": {"datum": "Actual value", "type": "nominal", "scale": {"type": "point", "padding": 0, "domain": ["Fitting result", "Actual value"], "range": [550, 36]}}}}
  ]},
 {"width": 274, "height": 174, "title": {"text": ["(e) SP3-4 oil production", "fitting results"], "offset": 27},
  "layer": [
   {"data": {"name": "eF"}, "mark": {"type": "line", "strokeWidth": 1.6},
    "encoding": {"x": {"field": "t", "type": "quantitative", "scale": {"domain": [0, 3500]}, "axis": {"values": [0,700,1400,2100,2800,3500], "tickCount": 12, "format": "d", "labelOverlap": false, "title": "Time"}},
     "y": {"field": "v", "type": "quantitative", "scale": {"domain": [0, 8]}, "axis": {"values": [0,1,2,3,4,5,6,7,8], "tickCount": 12, "format": "~g", "labelOverlap": false, "title": "WOPR:SP3-4/m³", "labelPadding": 18, "titlePadding": 18}},
     "color": {"datum": "Fitting result", "type": "nominal", "scale": {"domain": ["Fitting result", "Actual value"], "range": ["#ec1c24", "#2f4d9f"]}, "legend": {"title": null, "orient": "none", "legendX": 156, "legendY": 1}}}},
   {"data": {"name": "eA"}, "mark": {"type": "point", "filled": false, "strokeWidth": 1.7},
    "encoding": {"x": {"field": "t", "type": "quantitative"}, "y": {"field": "v", "type": "quantitative"},
     "color": {"datum": "Actual value", "type": "nominal"},
     "shape": {"datum": "Actual value", "type": "nominal", "scale": {"domain": ["Fitting result", "Actual value"], "range": ["stroke", "circle"]}},
     "size": {"datum": "Actual value", "type": "nominal", "scale": {"type": "point", "padding": 0, "domain": ["Fitting result", "Actual value"], "range": [550, 36]}}}}
  ]},
 {"width": 279, "height": 174, "title": {"text": ["(f) SP7-3 oil production", "fitting results"], "offset": 27},
  "layer": [
   {"data": {"name": "fF"}, "mark": {"type": "line", "strokeWidth": 1.6},
    "encoding": {"x": {"field": "t", "type": "quantitative", "scale": {"domain": [0, 3500]}, "axis": {"values": [0,700,1400,2100,2800,3500], "tickCount": 12, "format": "d", "labelOverlap": false, "title": "Time"}},
     "y": {"field": "v", "type": "quantitative", "scale": {"domain": [0, 9]}, "axis": {"values": [0,1,2,3,4,5,6,7,8,9], "tickCount": 12, "format": "~g", "labelOverlap": false, "title": "WOPR:SP7-3/m³", "labelPadding": 18, "titlePadding": 20}},
     "color": {"datum": "Fitting result", "type": "nominal", "scale": {"domain": ["Fitting result", "Actual value"], "range": ["#ec1c24", "#2f4d9f"]}, "legend": {"title": null, "orient": "none", "legendX": 147, "legendY": 6}}}},
   {"data": {"name": "fA"}, "mark": {"type": "point", "filled": false, "strokeWidth": 1.7},
    "encoding": {"x": {"field": "t", "type": "quantitative"}, "y": {"field": "v", "type": "quantitative"},
     "color": {"datum": "Actual value", "type": "nominal"},
     "shape": {"datum": "Actual value", "type": "nominal", "scale": {"domain": ["Fitting result", "Actual value"], "range": ["stroke", "circle"]}},
     "size": {"datum": "Actual value", "type": "nominal", "scale": {"type": "point", "padding": 0, "domain": ["Fitting result", "Actual value"], "range": [550, 36]}}}}
  ]}
]}
]
}
